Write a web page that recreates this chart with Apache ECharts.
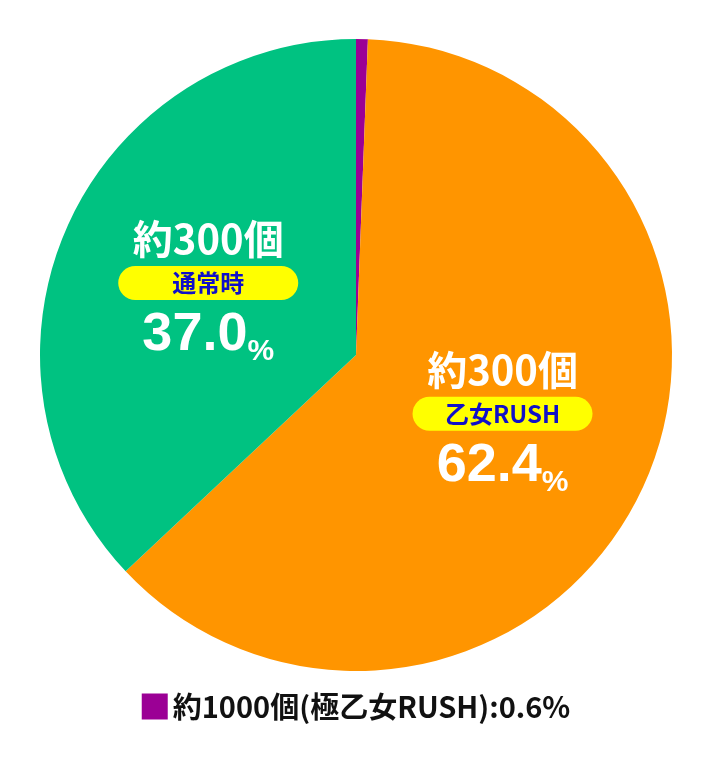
<!DOCTYPE html>
<html><head><meta charset="utf-8">
<script src="https://cdn.jsdelivr.net/npm/echarts@6/dist/echarts.min.js"></script>
<style>html,body{margin:0;padding:0;background:#fff}#c{width:712px;height:762px}</style>
</head><body><div id="c"></div>
<script>
const names = ['極乙女RUSH', '乙女RUSH', '通常時'];
const values = [0.6, 62.4, 37.0];
const counts = ['約1000個', '約300個', '約300個'];
const colors = ['#9B0095', '#FF9500', '#00C281'];

const chart = echarts.init(document.getElementById('c'));
const FONT = '"Noto Sans CJK JP", "Noto Sans", sans-serif';
chart.setOption({
  animation: false,
  legend: {
    bottom: 36, left: 'center', icon: 'rect', itemWidth: 26, itemHeight: 26, itemGap: 6,
    data: [names[0]], selectedMode: false,
    formatter: n => counts[0] + '(' + n + '):' + values[0] + '%',
    textStyle: { fontSize: 29, fontWeight: 'bold', color: '#111', fontFamily: FONT }
  },
  series: [{
    type: 'pie', center: [356, 355], radius: [0, 316], startAngle: 90, clockwise: true,
    emphasis: { disabled: true },
    data: names.map((n, i) => ({
      name: n, value: values[i], itemStyle: { color: colors[i] },
      label: { show: i > 0 }
    })),
    labelLine: { show: false },
    label: {
      position: 'inside', fontFamily: FONT,
      formatter: p => '{a|' + counts[p.dataIndex] + '}\n{b|' + p.name + '}\n{c|' + p.value.toFixed(1) + '}{d|%}',
      rich: {
        a: { fontSize: 40, fontWeight: 'bold', color: '#fff', fontFamily: FONT, lineHeight: 48 },
        b: { fontSize: 24, fontWeight: 'bold', color: '#1010C8', backgroundColor: '#FFFF00', borderRadius: 17, width: 180, align: 'center', height: 34, lineHeight: 40, fontFamily: FONT },
        c: { fontSize: 54, fontWeight: 'bold', color: '#fff', fontFamily: 'Liberation Sans', lineHeight: 64 },
        d: { fontSize: 30, fontWeight: 'bold', color: '#fff', fontFamily: 'Liberation Sans', lineHeight: 64, verticalAlign: 'bottom' }
      }
    }
  }]
});
</script></body></html>
